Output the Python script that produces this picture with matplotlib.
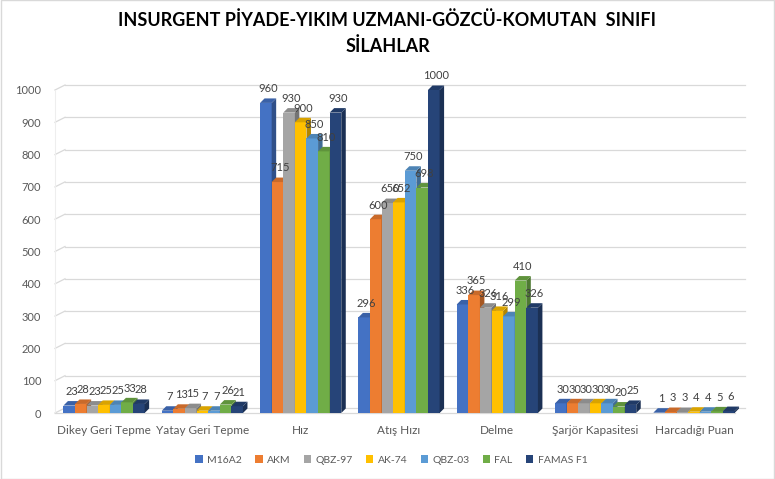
import matplotlib
matplotlib.use("Agg")
import matplotlib.pyplot as plt
from matplotlib.patches import Polygon, Rectangle
from matplotlib.colors import to_rgb
import numpy as np

categories = ["Dikey Geri Tepme", "Yatay Geri Tepme", "Hız", "Atış Hızı", "Delme",
              "Şarjör Kapasitesi", "Harcadığı Puan"]
series_names = ["M16A2", "AKM", "QBZ-97", "AK-74", "QBZ-03", "FAL", "FAMAS F1"]
m16a2 = [23, 7, 960, 296, 336, 30, 1]
akm = [28, 13, 715, 600, 365, 30, 3]
qbz97 = [23, 15, 930, 650, 326, 30, 3]
ak74 = [25, 7, 900, 652, 316, 30, 4]
qbz03 = [25, 7, 850, 750, 299, 30, 4]
fal = [33, 26, 810, 698, 410, 20, 5]
famas = [28, 21, 930, 1000, 326, 25, 6]
series_values = [m16a2, akm, qbz97, ak74, qbz03, fal, famas]
colors = ["#4472C4", "#ED7D31", "#A5A5A5", "#FFC000", "#5B9BD5", "#70AD47", "#264478"]
yticks = list(range(0, 1001, 100))
title = "INSURGENT PİYADE-YIKIM UZMANI-GÖZCÜ-KOMUTAN  SINIFI\nSİLAHLAR"

plt.rcParams['font.family'] = ['Lato', 'DejaVu Sans']

fig = plt.figure(figsize=(7.75, 4.79), dpi=100)
ax = fig.add_axes([55/775, 1-413/479, 690/775, 323/479])
shift = 4 / (690 / 7.018)
xl = (-0.458 - shift, 6.56 - shift)
ax.set_xlim(*xl)
ax.set_ylim(0, 1000)
for s in ax.spines.values():
    s.set_visible(False)

# depth in data units
px_x = 690 / (xl[1] - xl[0])
px_y = 323 / 1000
ddx = 4.5 / px_x
ddy = 4.5 / px_y
gdx = 10 / px_x
gdy = 5 / px_y

# gridlines (back wall) with slanted floor segment
for t in yticks:
    ax.plot([xl[0] + gdx, xl[1]], [t + gdy, t + gdy], color="#d9d9d9", lw=0.9, zorder=0, clip_on=False)
    ax.plot([xl[0], xl[0] + gdx], [t, t + gdy], color="#d9d9d9", lw=0.9, zorder=0, clip_on=False)
ax.plot([xl[0], xl[0]], [0, 1000], color="#eeeeee", lw=0.8, zorder=0, clip_on=False)
ax.plot([xl[0], xl[1] - gdx], [0, 0], color="#d9d9d9", lw=0.9, zorder=0.5, clip_on=False)

w = 0.118
x = np.arange(len(categories))

def shade(c, f):
    r, g, b = to_rgb(c)
    return (r * f, g * f, b * f)

for i, (name, vals, col) in enumerate(zip(series_names, series_values, colors)):
    xs = x + (i - 3) * w
    ax.bar(xs, vals, width=w, color=col, label=name, zorder=2 + i * 0.01, edgecolor="none",
           clip_on=False)
    for xi, v in zip(xs, vals):
        l, r = xi - w / 2, xi + w / 2
        side = Polygon([(r, 0), (r + ddx, ddy), (r + ddx, v + ddy), (r, v)],
                       closed=True, facecolor=shade(col, 0.7), edgecolor="none",
                       zorder=2 + i * 0.01, clip_on=False)
        top = Polygon([(l, v), (l + ddx, v + ddy), (r + ddx, v + ddy), (r, v)],
                      closed=True, facecolor=shade(col, 0.85), edgecolor="none",
                      zorder=2 + i * 0.01, clip_on=False)
        ax.add_patch(side)
        ax.add_patch(top)
        ax.annotate(str(v), (xi + ddx / 2, v + ddy), xytext=(0, 3), textcoords="offset points",
                    ha="center", va="bottom", fontsize=8, color="#404040", zorder=5,
                    annotation_clip=False)

ax.set_yticks(yticks)
ax.set_yticklabels([str(t) for t in yticks], fontsize=8, color="#595959")
ax.tick_params(axis="y", length=0, pad=10)
ax.set_xticks(x)
ax.set_xticklabels(categories, fontsize=8.5, color="#595959")
ax.tick_params(axis="x", length=0, pad=9)

fig.text(0.5, 1 - 33/479, title, ha="center", va="center", fontsize=13, fontweight="bold",
         color="#000000", linespacing=1.55)

leg = fig.legend(loc="center", bbox_to_anchor=(0.505, 1 - 460/479), ncol=7, frameon=False,
                 fontsize=7.5, handlelength=0.7, handleheight=0.7, handletextpad=0.4,
                 columnspacing=1.3)
for t in leg.get_texts():
    t.set_color("#595959")

fig.patches.append(Rectangle((0.001, 0.001), 0.998, 0.998, transform=fig.transFigure,
                             fill=False, edgecolor="#d9d9d9", lw=1))

fig.savefig("out.png", dpi=100)
